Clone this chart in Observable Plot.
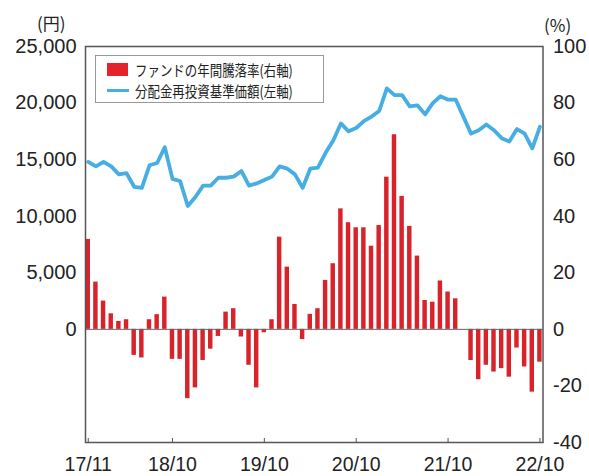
<!DOCTYPE html>
<html>
<head>
<meta charset="utf-8">
<script src="https://cdn.jsdelivr.net/npm/d3@7"></script>
<script src="https://cdn.jsdelivr.net/npm/@observablehq/plot@0.6"></script>
<style>
  html, body { margin: 0; padding: 0; background: #fff; }
  #wrap { position: relative; width: 589px; height: 476px; }
  .unit { position: absolute; font-family: "Noto Sans CJK JP", "Liberation Sans", sans-serif; font-size: 17px; color: #222; }
  #legend { position: absolute; left: 95px; top: 55px; width: 229px; height: 48px; border: 1px solid #999; background: #fff; box-sizing: border-box;
    font-family: "Noto Sans CJK JP", sans-serif; font-size: 15px; color: #222; }
  .row { position: absolute; left: 11px; height: 16px; display: flex; align-items: center; white-space: nowrap; }
  .row .txt { display: inline-block; transform: scaleX(0.83); transform-origin: left center; }
  .sw-bar { width: 21px; height: 13px; margin-right: 7px; flex: none; }
  .sw-line { width: 22px; height: 3px; margin-right: 6px; flex: none; }
</style>
</head>
<body>
<div id="wrap"></div>
<script>
// month labels for x ticks (index into the monthly series 2017/11 .. 2022/10)
const tickIndex = [0, 11, 23, 35, 47, 59];
const tickLabels = ["17/11", "18/10", "19/10", "20/10", "21/10", "22/10"];

// fund annual return (%), right axis, monthly from 2017/11
const annualReturn = [
  31.8, 16.7, 10.0, 5.5, 2.8, 3.4, -9.2, -10.1, 3.4, 5.2, 11.4, -10.6,
  -10.6, -24.5, -20.7, -11.0, -7.0, -2.5, 6.1, 7.3, -2.7, -12.7, -20.7, -1.2,
  3.4, 32.6, 22.0, 8.8, -3.6, 5.3, 7.3, 17.3, 23.2, 42.6, 37.7, 35.9,
  35.9, 29.4, 36.7, 53.8, 68.8, 47.0, 36.4, 25.9, 10.2, 9.6, 17.1, 13.2,
  10.8, 0, -11.0, -17.8, -12.7, -15.1, -13.9, -16.9, -6.6, -13.3, -22.2, -11.6
];

// NAV with dividends reinvested (yen), left axis
const nav = [
  14800, 14400, 14800, 14400, 13700, 13800, 12600, 12500, 14500, 14700, 16100, 13300,
  13100, 10900, 11700, 12700, 12700, 13400, 13400, 13500, 14000, 12700, 12900, 13200,
  13500, 14400, 14200, 13700, 12500, 14200, 14300, 15600, 16700, 18200, 17500, 17800,
  18400, 18800, 19300, 21300, 20700, 20700, 19700, 19800, 19000, 20000, 20600, 20300,
  20300, 18800, 17300, 17600, 18100, 17600, 16900, 16600, 17700, 17300, 16000, 17900
];

const leftTicks = [0, 5000, 10000, 15000, 20000, 25000];
const rightTicks = [-40, -20, 0, 20, 40, 60, 80, 100];
const yenPerPct = 250; // 25,000 yen on the left axis aligns with 100% on the right

const data = annualReturn.map((r, i) => ({i, ret: r, nav: nav[i]}));

const barHalf = 0.29;

const chart = Plot.plot({
  width: 589,
  height: 476,
  marginLeft: 85,
  marginRight: 46.5,
  marginTop: 46,
  marginBottom: 34,
  style: {fontFamily: "'Liberation Sans', Arial, sans-serif", fontSize: "20px", color: "#222", background: "#fff"},
  x: {domain: [-0.36, 59.4]},
  y: {domain: [-40, 100]},
  marks: [
    Plot.rect(data, {x1: d => d.i - barHalf, x2: d => d.i + barHalf, y1: 0, y2: "ret", fill: "#d8232a"}),
    Plot.ruleY([0], {stroke: "#666", strokeWidth: 1}),
    Plot.lineY(data, {x: "i", y: d => d.nav / yenPerPct, stroke: "#46aee2", strokeWidth: 3.8, strokeLinejoin: "round"}),
    Plot.frame({stroke: "#555", strokeWidth: 1.5}),
    Plot.axisY({anchor: "left", ticks: leftTicks.map(v => v / yenPerPct), tickFormat: v => d3.format(",")(Math.round(v * yenPerPct)), tickSize: 0, tickPadding: 9, label: null}),
    Plot.axisY({anchor: "right", ticks: rightTicks, tickFormat: d => String(d), tickSize: 0, tickPadding: 10, label: null}),
    Plot.axisX({anchor: "bottom", ticks: tickIndex, tickFormat: d => tickLabels[tickIndex.indexOf(d)], tickSize: -4, tickPadding: 19, fontSize: 19.5, stroke: "#555", label: null})
  ]
});

const wrap = document.getElementById("wrap");
wrap.appendChild(chart);

const u1 = document.createElement("div");
u1.className = "unit"; u1.textContent = "(円)"; u1.style.left = "37px"; u1.style.top = "10px";
wrap.appendChild(u1);
const u2 = document.createElement("div");
u2.className = "unit"; u2.textContent = "(%)"; u2.style.left = "544px"; u2.style.top = "12px";
wrap.appendChild(u2);

const legend = document.createElement("div");
legend.id = "legend";
legend.innerHTML =
  '<div class="row" style="top:5px"><span class="sw-bar" style="background:#e5232b"></span><span class="txt">ファンドの年間騰落率(右軸)</span></div>' +
  '<div class="row" style="top:26px"><span class="sw-line" style="background:#46aee2"></span><span class="txt">分配金再投資基準価額(左軸)</span></div>';
wrap.appendChild(legend);
</script>
</body>
</html>
